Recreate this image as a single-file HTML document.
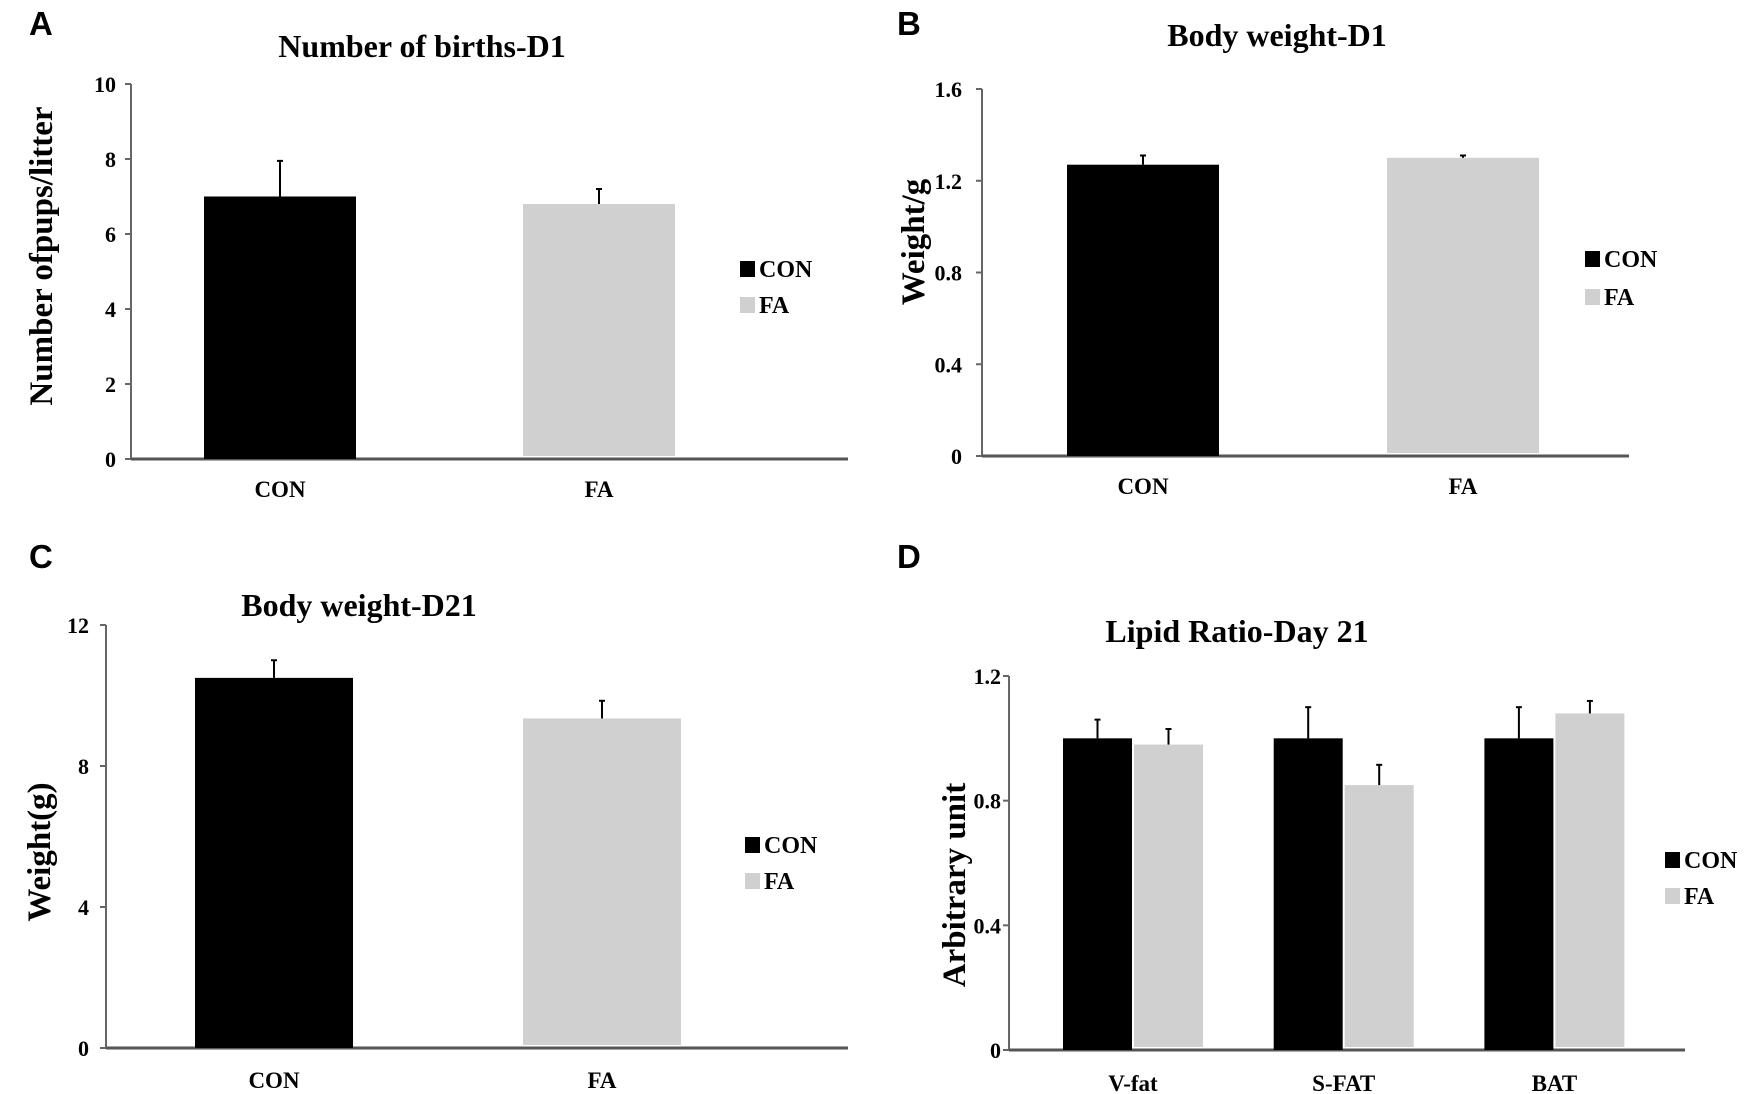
<!DOCTYPE html>
<html><head><meta charset="utf-8"><style>
html,body{margin:0;padding:0;background:#fff;}
svg{display:block;}
text{font-family:"Liberation Serif",serif;font-weight:bold;fill:#000;}
.letter{font-family:"Liberation Sans",sans-serif;font-size:33px;}
</style></head><body>
<svg id="fig" width="1750" height="1094" viewBox="0 0 1750 1094" xmlns="http://www.w3.org/2000/svg">
<text class="letter" x="29" y="35">A</text>
<text class="letter" x="897" y="35">B</text>
<text class="letter" x="29" y="568">C</text>
<text class="letter" x="897" y="568">D</text>
</svg>
<script>
const aCategories = ["CON", "FA"];
const aValues = [7.0, 6.8];
const aErrors = [0.95, 0.4];
const aTicks = ["0", "2", "4", "6", "8", "10"];

const bCategories = ["CON", "FA"];
const bValues = [1.27, 1.30];
const bErrors = [0.04, 0.01];
const bTicks = ["0", "0.4", "0.8", "1.2", "1.6"];

const cCategories = ["CON", "FA"];
const cValues = [10.5, 9.35];
const cErrors = [0.5, 0.5];
const cTicks = ["0", "4", "8", "12"];

const dCategories = ["V-fat", "S-FAT", "BAT"];
const dConValues = [1.0, 1.0, 1.0];
const dConErrors = [0.06, 0.10, 0.10];
const dFaValues = [0.98, 0.85, 1.08];
const dFaErrors = [0.05, 0.065, 0.04];
const dTicks = ["0", "0.4", "0.8", "1.2"];

const svg = document.getElementById('fig');
const NS = 'http://www.w3.org/2000/svg';
function mk(tag, attrs, txt) {
  const e = document.createElementNS(NS, tag);
  for (const k in attrs) e.setAttribute(k, attrs[k]);
  if (txt !== undefined) e.textContent = txt;
  svg.appendChild(e);
  return e;
}
const BLACK = '#000', GREY = '#d0d0d0';

function drawBar(cfg, ys, left, v, err, color, label) {
  const top = ys(v);
  const bottom = color === BLACK ? cfg.y0 : cfg.y0 - 3;
  const r = mk('rect', {x: left, y: top, width: cfg.barW, height: bottom - top, fill: color});
  
  
  const ex = left + cfg.barW / 2, ey = ys(v + err);
  const e = mk('line', {x1: ex, y1: top, x2: ex, y2: ey, stroke: '#000', 'stroke-width': 2});
  
  
  const c = mk('line', {x1: ex - 3, y1: ey, x2: ex + 3, y2: ey, stroke: '#000', 'stroke-width': 2});
  
  
}

function panel(cfg) {
  const ys = v => cfg.y0 - (v / cfg.ymax) * (cfg.y0 - cfg.yTop);
  const t = mk('text', {x: cfg.titleX, y: cfg.titleY, 'text-anchor': 'middle', 'font-size': 32}, cfg.title);
  
  
  const ax = mk('line', {x1: cfg.x0, y1: cfg.y0, x2: cfg.x0, y2: cfg.yTop, stroke: '#666', 'stroke-width': 2});
  
  
  const bx = mk('line', {x1: cfg.x0, y1: cfg.y0, x2: cfg.x1, y2: cfg.y0, stroke: '#555', 'stroke-width': 3});
  
  
  cfg.ticks.forEach(tk => {
    const y = ys(parseFloat(tk));
    const tl = mk('line', {x1: cfg.x0 - 6, y1: y, x2: cfg.x0, y2: y, stroke: '#666', 'stroke-width': 2});
    
    
    const l = mk('text', {x: cfg.x0 - cfg.tickGap, y: y + 8, 'text-anchor': 'end', 'font-size': 22}, tk);
    
    
  });
  const yt = mk('text', {transform: `translate(${cfg.ytX},${cfg.ytY}) rotate(-90)`, 'text-anchor': 'middle', 'font-size': 33}, cfg.yTitle);
  
  
  cfg.cats.forEach((c, i) => {
    const cx = cfg.c0 + cfg.cstep * i;
    const xl = mk('text', {x: cx, y: cfg.xlY, 'text-anchor': 'middle', 'font-size': 23}, c);
    
    
    if (cfg.grouped) {
      drawBar(cfg, ys, cx - 1 - cfg.barW, cfg.con[i], cfg.conErr[i], BLACK, cfg.id + '-bar-con-' + c.toLowerCase());
      drawBar(cfg, ys, cx + 1, cfg.fa[i], cfg.faErr[i], GREY, cfg.id + '-bar-fa-' + c.toLowerCase());
    } else {
      drawBar(cfg, ys, cx - cfg.barW / 2, cfg.vals[i], cfg.errs[i], i === 0 ? BLACK : GREY, cfg.id + '-bar-' + c.toLowerCase());
    }
  });
  [['CON', BLACK], ['FA', GREY]].forEach((s, j) => {
    const y = cfg.legY + j * cfg.legGap;
    const sq = mk('rect', {x: cfg.legX, y: y - 8, width: 15, height: 16, fill: s[1]});
    
    
    const lt = mk('text', {x: cfg.legX + 19, y: y + 8, 'font-size': 24}, s[0]);
    
    
  });
}

panel({id: 'panel-a', title: 'Number of births-D1', titleX: 422, titleY: 57,
  x0: 131, x1: 848, y0: 459, yTop: 84, ymax: 10, ticks: aTicks, tickGap: 15,
  yTitle: 'Number ofpups/litter', ytX: 52, ytY: 256, xlY: 497, barW: 152,
  c0: 280, cstep: 319, cats: aCategories, vals: aValues, errs: aErrors,
  legX: 740, legY: 269, legGap: 36});

panel({id: 'panel-b', title: 'Body weight-D1', titleX: 1277, titleY: 46,
  x0: 982, x1: 1629, y0: 456, yTop: 89, ymax: 1.6, ticks: bTicks, tickGap: 20,
  yTitle: 'Weight/g', ytX: 924, ytY: 242, xlY: 494, barW: 152,
  c0: 1143, cstep: 320, cats: bCategories, vals: bValues, errs: bErrors,
  legX: 1585, legY: 259, legGap: 38});

panel({id: 'panel-c', title: 'Body weight-D21', titleX: 359, titleY: 616,
  x0: 106, x1: 848, y0: 1048, yTop: 625, ymax: 12, ticks: cTicks, tickGap: 17,
  yTitle: 'Weight(g)', ytX: 50, ytY: 852, xlY: 1088, barW: 158,
  c0: 274, cstep: 328, cats: cCategories, vals: cValues, errs: cErrors,
  legX: 745, legY: 845, legGap: 36});

panel({id: 'panel-d', title: 'Lipid Ratio-Day 21', titleX: 1237, titleY: 642,
  x0: 1009, x1: 1685, y0: 1050, yTop: 676, ymax: 1.2, ticks: dTicks, tickGap: 8,
  yTitle: 'Arbitrary unit', ytX: 965, ytY: 885, xlY: 1091, barW: 69,
  c0: 1133, cstep: 210.7, cats: dCategories, grouped: true,
  con: dConValues, conErr: dConErrors, fa: dFaValues, faErr: dFaErrors,
  legX: 1665, legY: 860, legGap: 36});
</script>
</body></html>
